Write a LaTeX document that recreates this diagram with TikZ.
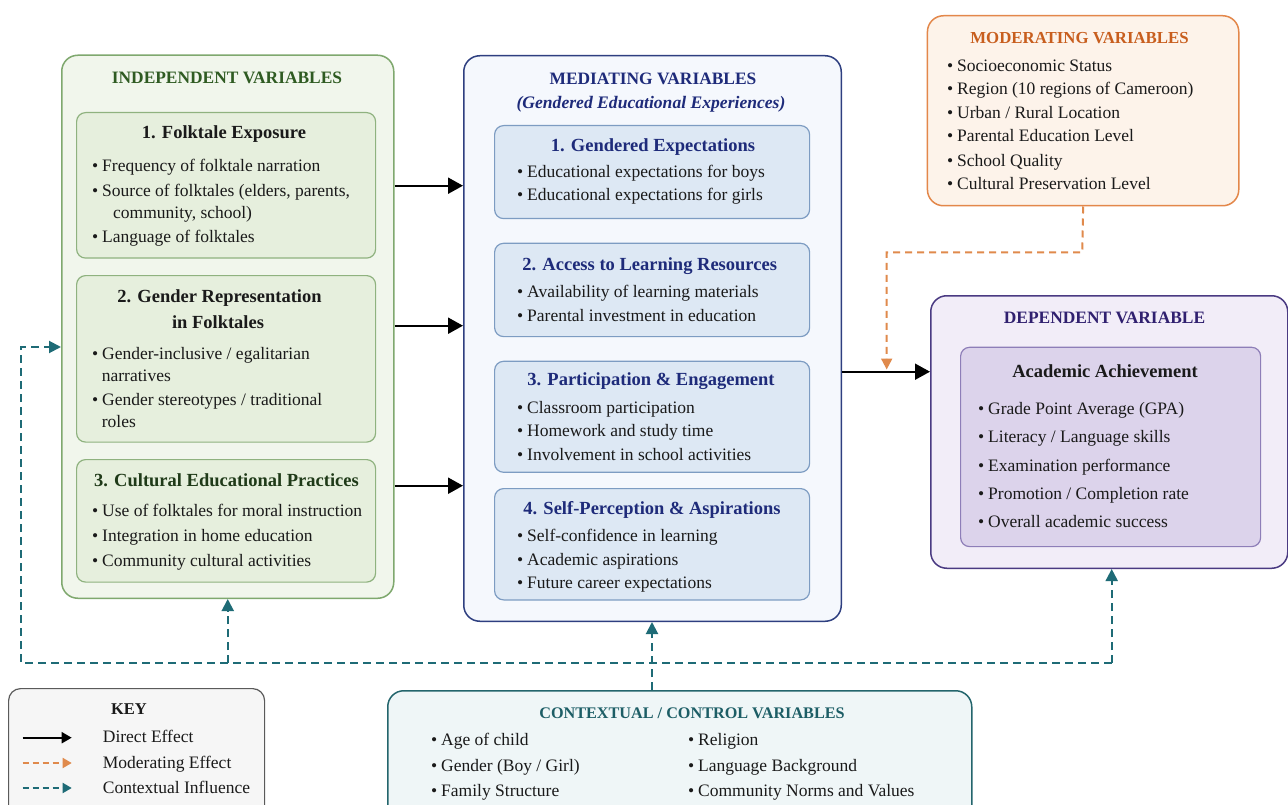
\documentclass[tikz,border=0pt]{standalone}
\usepackage{fontspec}
\setmainfont{Liberation Serif}
\usetikzlibrary{arrows.meta}

\definecolor{ink}{HTML}{1A1A1A}
\definecolor{indFill}{HTML}{F1F6EC}
\definecolor{indBorder}{HTML}{7FA86E}
\definecolor{indCard}{HTML}{E6EFDD}
\definecolor{indCardBorder}{HTML}{8FB27F}
\definecolor{indTitle}{HTML}{2F5B22}
\definecolor{indSub}{HTML}{1F3A18}
\definecolor{medFill}{HTML}{F5F8FD}
\definecolor{medBorder}{HTML}{2E3F80}
\definecolor{medCard}{HTML}{DDE8F4}
\definecolor{medCardBorder}{HTML}{7D9CC2}
\definecolor{medTitle}{HTML}{1E2B7A}
\definecolor{modFill}{HTML}{FDF3EA}
\definecolor{modBorder}{HTML}{E3874A}
\definecolor{modTitle}{HTML}{C85E1E}
\definecolor{depFill}{HTML}{F2EDF8}
\definecolor{depBorder}{HTML}{4A3A82}
\definecolor{depCard}{HTML}{DCD3EB}
\definecolor{depCardBorder}{HTML}{8E7EB8}
\definecolor{depTitle}{HTML}{30206F}
\definecolor{ctxFill}{HTML}{EFF6F7}
\definecolor{ctxBorder}{HTML}{23656C}
\definecolor{ctxTitle}{HTML}{1D5E66}
\definecolor{keyFill}{HTML}{F6F6F6}
\definecolor{keyBorder}{HTML}{5A5A5A}
\definecolor{teal}{HTML}{1E6B76}
\definecolor{orangeline}{HTML}{E08A4C}

\newcommand{\dotitem}[1]{\makebox[10pt][l]{\textbullet}#1}

\tikzset{
  panel/.style={draw, rounded corners=16pt, line width=1.5pt, anchor=north west, inner sep=0pt},
  card/.style={draw, rounded corners=9pt, line width=1.2pt, anchor=north west, inner sep=0pt},
  head/.style={font=\fontsize{17.4}{20}\selectfont\bfseries, anchor=base, inner sep=0pt},
  subhead/.style={font=\fontsize{18.5}{21}\selectfont\bfseries, anchor=base, inner sep=0pt},
  item/.style={font=\fontsize{17.5}{21}\selectfont, anchor=base west, inner sep=0pt, text=ink},
  direct/.style={line width=2.2pt, draw=black, -{Triangle[length=15pt,width=16pt]}},
  moderate/.style={line width=2pt, draw=orangeline, dash pattern=on 7pt off 5pt,
    -{Triangle[length=11pt,width=11pt,fill=orangeline]}},
  ctxline/.style={line width=2pt, draw=teal, dash pattern=on 8pt off 5pt},
  ctxarrow/.style={ctxline, -{Triangle[length=12pt,width=12pt,fill=teal]}},
}

\begin{document}
\begin{tikzpicture}[x=1pt,y=-1pt]
\useasboundingbox (0,0) rectangle (1288,805);
\clip (0,0) rectangle (1288,805);
\fill[white] (0,0) rectangle (1288,805);

% ---------- Independent variables ----------
\node[panel, draw=indBorder, fill=indFill, minimum width=332pt, minimum height=543pt] (ind) at (61,54.5) {};
\node[head, text=indTitle] (indT) at (227,84) {INDEPENDENT VARIABLES};

\node[card, draw=indCardBorder, fill=indCard, minimum width=299pt, minimum height=145.5pt] (ind1) at (76,112) {};
\node[subhead, text=ink] (ind1T) at (224,139) {1. Folktale Exposure};
\node[item] (ind1a) at (92,171.7) {\dotitem{Frequency of folktale narration}};
\node[item] (ind1b) at (92,196.7) {\dotitem{Source of folktales (elders, parents,}};
\node[item] (ind1c) at (113,219) {community, school)};
\node[item] (ind1d) at (92,243) {\dotitem{Language of folktales}};

\node[card, draw=indCardBorder, fill=indCard, minimum width=299pt, minimum height=166.5pt] (ind2) at (76,275) {};
\node[subhead, text=ink] (ind2T) at (219.5,302) {2. Gender Representation};
\node[subhead, text=ink] (ind2U) at (218,328) {in Folktales};
\node[item] (ind2a) at (92,359) {\dotitem{Gender-inclusive / egalitarian}};
\node[item] (ind2b) at (101.7,381) {narratives};
\node[item] (ind2c) at (92,405) {\dotitem{Gender stereotypes / traditional}};
\node[item] (ind2d) at (101.7,427.7) {roles};

\node[card, draw=indCardBorder, fill=indCard, minimum width=299pt, minimum height=122.5pt] (ind3) at (76,459) {};
\node[subhead, text=indSub] (ind3T) at (226.5,486) {3. Cultural Educational Practices};
\node[item] (ind3a) at (92,516) {\dotitem{Use of folktales for moral instruction}};
\node[item] (ind3b) at (92,541.7) {\dotitem{Integration in home education}};
\node[item] (ind3c) at (92,566.7) {\dotitem{Community cultural activities}};

% ---------- Mediating variables ----------
\node[panel, draw=medBorder, fill=medFill, minimum width=377.5pt, minimum height=565.5pt] (med) at (463,55) {};
\node[head, text=medTitle] (medT) at (653,85) {MEDIATING VARIABLES};
\node[subhead, text=medTitle, font=\fontsize{17.6}{20}\selectfont\bfseries\itshape] (medS) at (651,108.5) {(Gendered Educational Experiences)};

\node[card, draw=medCardBorder, fill=medCard, minimum width=315pt, minimum height=93pt] (med1) at (494,125) {};
\node[subhead, text=medTitle] (med1T) at (653,151.5) {1. Gendered Expectations};
\node[item] (med1a) at (517,177.7) {\dotitem{Educational expectations for boys}};
\node[item] (med1b) at (517,201) {\dotitem{Educational expectations for girls}};

\node[card, draw=medCardBorder, fill=medCard, minimum width=315pt, minimum height=93.3pt] (med2) at (494,242.7) {};
\node[subhead, text=medTitle] (med2T) at (649.7,270.5) {2. Access to Learning Resources};
\node[item] (med2a) at (517,297) {\dotitem{Availability of learning materials}};
\node[item] (med2b) at (517,321) {\dotitem{Parental investment in education}};

\node[card, draw=medCardBorder, fill=medCard, minimum width=315pt, minimum height=111pt] (med3) at (494,360.7) {};
\node[subhead, text=medTitle] (med3T) at (651,385.5) {3. Participation \& Engagement};
\node[item] (med3a) at (517,413) {\dotitem{Classroom participation}};
\node[item] (med3b) at (517,436.7) {\dotitem{Homework and study time}};
\node[item] (med3c) at (517,460) {\dotitem{Involvement in school activities}};

\node[card, draw=medCardBorder, fill=medCard, minimum width=315pt, minimum height=111.3pt] (med4) at (494,488) {};
\node[subhead, text=medTitle] (med4T) at (652,514.5) {4. Self-Perception \& Aspirations};
\node[item] (med4a) at (517,541.7) {\dotitem{Self-confidence in learning}};
\node[item] (med4b) at (517,565) {\dotitem{Academic aspirations}};
\node[item] (med4c) at (517,588.3) {\dotitem{Future career expectations}};

% ---------- Moderating variables ----------
\node[panel, draw=modBorder, fill=modFill, minimum width=311.3pt, minimum height=190pt] (mod) at (926.7,15) {};
\node[head, text=modTitle, font=\fontsize{16.8}{20}\selectfont\bfseries] (modT) at (1079.5,43.3) {MODERATING VARIABLES};
\node[item] (moda) at (947,71.7) {\dotitem{Socioeconomic Status}};
\node[item] (modb) at (947,95) {\dotitem{Region (10 regions of Cameroon)}};
\node[item] (modc) at (947,119) {\dotitem{Urban / Rural Location}};
\node[item] (modd) at (947,142) {\dotitem{Parental Education Level}};
\node[item] (mode) at (947,166.7) {\dotitem{School Quality}};
\node[item] (modf) at (947,190) {\dotitem{Cultural Preservation Level}};

% ---------- Dependent variable ----------
\node[panel, draw=depBorder, fill=depFill, minimum width=357pt, minimum height=272.5pt] (dep) at (930,295) {};
\node[head, text=depTitle] (depT) at (1104.5,323.7) {DEPENDENT VARIABLE};
\node[card, draw=depCardBorder, fill=depCard, minimum width=300pt, minimum height=199.3pt] (dep1) at (960,346.7) {};
\node[subhead, text=ink] (dep1T) at (1105,377.5) {Academic Achievement};
\node[item] (depa) at (978,414) {\dotitem{Grade Point Average (GPA)}};
\node[item] (depb) at (978,442.7) {\dotitem{Literacy / Language skills}};
\node[item] (depc) at (978,471) {\dotitem{Examination performance}};
\node[item] (depd) at (978,499.3) {\dotitem{Promotion / Completion rate}};
\node[item] (depe) at (978,527.7) {\dotitem{Overall academic success}};

% ---------- Contextual / control variables ----------
\node[panel, draw=ctxBorder, fill=ctxFill, minimum width=584pt, minimum height=140pt] (ctx) at (387,690) {};
\node[head, text=ctxTitle, font=\fontsize{16.2}{20}\selectfont\bfseries] (ctxT) at (692,718.5) {CONTEXTUAL / CONTROL VARIABLES};
\node[item] (ctxa) at (431,745.7) {\dotitem{Age of child}};
\node[item] (ctxb) at (431,771) {\dotitem{Gender (Boy / Girl)}};
\node[item] (ctxc) at (431,796) {\dotitem{Family Structure}};
\node[item] (ctxd) at (688,745.7) {\dotitem{Religion}};
\node[item] (ctxe) at (688,771) {\dotitem{Language Background}};
\node[item] (ctxf) at (688,796) {\dotitem{Community Norms and Values}};

% ---------- Key ----------
\node[panel, rounded corners=12pt, line width=1.2pt, draw=keyBorder, fill=keyFill, minimum width=256pt, minimum height=140pt] (key) at (8,688) {};
\node[head, text=ink, font=\fontsize{16.5}{20}\selectfont\bfseries] (keyT) at (129,714.5) {KEY};
\coordinate (k1s) at (22.7,737.7); \coordinate (k1e) at (71.7,737.7);
\coordinate (k2s) at (22.7,763);   \coordinate (k2e) at (71.7,763);
\coordinate (k3s) at (22.7,788);   \coordinate (k3e) at (71.7,788);
\draw[line width=2pt, -{Triangle[length=10pt,width=11pt]}] (k1s) -- (k1e);
\draw[line width=1.8pt, draw=orangeline, dash pattern=on 6pt off 4pt,
  -{Triangle[length=9pt,width=10pt,fill=orangeline]}] (k2s) -- (k2e);
\draw[line width=1.8pt, draw=teal, dash pattern=on 6pt off 4pt,
  -{Triangle[length=9pt,width=10pt,fill=teal]}] (k3s) -- (k3e);
\node[item] (k1) at (102.7,742.7) {Direct Effect};
\node[item] (k2) at (102.7,768) {Moderating Effect};
\node[item] (k3) at (102.7,793) {Contextual Influence};

% ---------- Direct effects ----------
\draw[direct] (ind.east |- 0,185.7) -- (med.west |- 0,185.7);
\draw[direct] (ind.east |- 0,325.7) -- (med.west |- 0,325.7);
\draw[direct] (ind.east |- 0,485.7) -- (med.west |- 0,485.7);
\draw[direct, line width=1.8pt] (med.east |- 0,371.7) -- (dep.west |- 0,371.7);

% ---------- Moderating effect ----------
\coordinate (modBend) at (1082.3,252.3);
\coordinate (modIn) at (886.7,369.5);
\draw[moderate] (mod.south) -- (modBend) -| (modIn);

% ---------- Contextual influence ----------
\coordinate (cl) at (21,663);
\coordinate (cr) at (1111.7,663);
\coordinate (hub) at (652,663);
\draw[ctxarrow] (cr) -- (cl) |- (ind.west |- 0,347);
\draw[ctxarrow] (ind.south |- cl) -- (ind.south);
\draw[ctxarrow] (ctx.north -| hub) -- (med.south -| hub);
\draw[ctxarrow] (cr) -- (dep.south -| cr);
\end{tikzpicture}
\end{document}
